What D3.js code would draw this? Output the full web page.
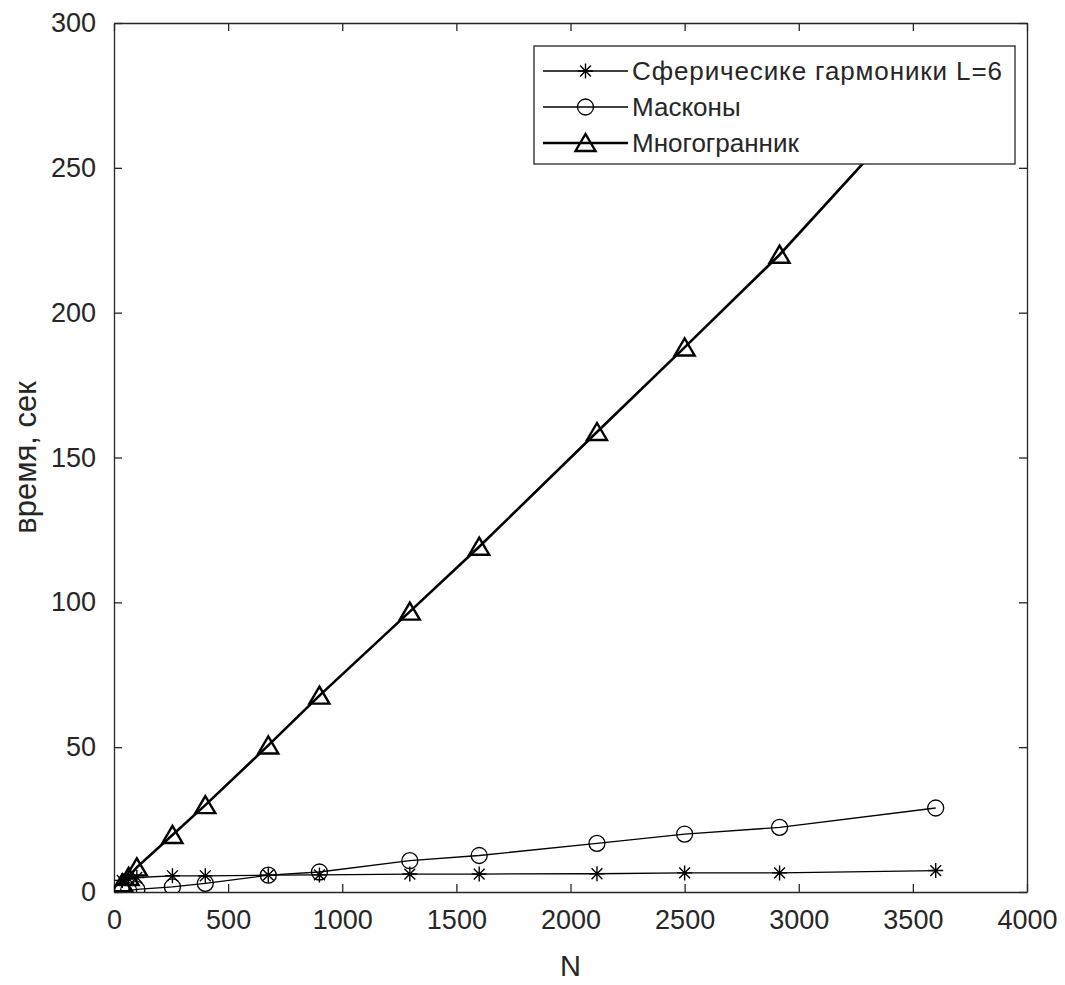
<!DOCTYPE html>
<html>
<head>
<meta charset="utf-8">
<script src="https://cdn.jsdelivr.net/npm/d3@7"></script>
<style>
  body { margin: 0; background: #fff; }
  text { font-family: "Liberation Sans", Arial, sans-serif; fill: #262626; }
</style>
</head>
<body>
<svg id="chart" width="1065" height="985"></svg>
<script>
// N values (squares of grid sizes)
const nValues = [36, 64, 100, 256, 400, 676, 900, 1296, 1600, 2116, 2500, 2916, 3600];
// время, сек
const harmonics = [4.0, 4.5, 5.0, 5.6, 5.6, 5.8, 5.9, 6.2, 6.2, 6.3, 6.6, 6.6, 7.4];
const mascons = [0.3, 0.5, 0.9, 1.8, 3.0, 5.8, 6.9, 10.8, 12.6, 16.8, 20.0, 22.3, 29.0];
const polyhedron = [3.0, 5.2, 8.5, 19.7, 30.0, 50.6, 67.8, 96.8, 119.2, 158.8, 188.0, 220.0, 279.0];

const xTicks = [0, 500, 1000, 1500, 2000, 2500, 3000, 3500, 4000];
const yTicks = [0, 50, 100, 150, 200, 250, 300];
const legendLabels = ["Сферичесике гармоники L=6", "Масконы", "Многогранник"];

const margin = {left: 114, right: 1027, top: 23, bottom: 892};
const svg = d3.select("#chart");

let x = d3.scaleLinear().domain([0, 4000]).range([margin.left, margin.right]);
let y = d3.scaleLinear().domain([0, 300]).range([margin.bottom, margin.top]);

svg.append("defs").append("clipPath").attr("id", "clip")
  .append("rect")
  .attr("x", margin.left).attr("y", margin.top)
  .attr("width", margin.right - margin.left).attr("height", margin.bottom - margin.top);

// axes, MATLAB style with ticks inside
const tickLen = 8;
const fmt = d3.format("d");
svg.append("g")
  .attr("transform", "translate(0," + margin.bottom + ")")
  .call(d3.axisBottom(x).tickValues(xTicks).tickFormat(fmt).tickSizeInner(-tickLen).tickSizeOuter(0).tickPadding(18))
  .call(g => g.selectAll("text").attr("font-size", 27).attr("font-family", "Liberation Sans, Arial"));
svg.append("g")
  .attr("transform", "translate(0," + margin.top + ")")
  .call(d3.axisTop(x).tickValues(xTicks).tickSizeInner(-tickLen).tickSizeOuter(0).tickFormat(""));
svg.append("g")
  .attr("transform", "translate(" + margin.left + ",0)")
  .call(d3.axisLeft(y).tickValues(yTicks).tickFormat(fmt).tickSizeInner(-tickLen).tickSizeOuter(0).tickPadding(18))
  .call(g => g.selectAll("text").attr("font-size", 27).attr("font-family", "Liberation Sans, Arial"));
svg.append("g")
  .attr("transform", "translate(" + margin.right + ",0)")
  .call(d3.axisRight(y).tickValues(yTicks).tickSizeInner(-tickLen).tickSizeOuter(0).tickFormat(""));

svg.selectAll(".domain").attr("stroke", "#262626").attr("stroke-width", 1.3);
svg.selectAll(".tick line").attr("stroke", "#262626").attr("stroke-width", 1.3);
svg.selectAll(".tick text").attr("fill", "#333");

// axis labels
svg.append("text")
  .attr("x", (margin.left + margin.right) / 2).attr("y", 976)
  .attr("text-anchor", "middle").attr("font-size", 29)
  .attr("fill", "#333")
  .text("N");
svg.append("text")
  .attr("transform", "translate(36," + ((margin.top + margin.bottom) / 2) + ") rotate(-90)")
  .attr("text-anchor", "middle").attr("font-size", 31)
  .attr("fill", "#333")
  .text("время, сек");

// markers
function star(g, cx, cy) {
  let r = 7.5, d = r * 0.72;
  g.append("path")
    .attr("d", `M${cx - r},${cy}L${cx + r},${cy}M${cx},${cy - r}L${cx},${cy + r}` +
      `M${cx - d},${cy - d}L${cx + d},${cy + d}M${cx - d},${cy + d}L${cx + d},${cy - d}`)
    .attr("stroke", "#000").attr("stroke-width", 1.4).attr("fill", "none");
}
function circle(g, cx, cy) {
  g.append("circle").attr("cx", cx).attr("cy", cy).attr("r", 8)
    .attr("stroke", "#000").attr("stroke-width", 1.3).attr("fill", "none");
}
function triangle(g, cx, cy) {
  g.append("path")
    .attr("d", `M${cx},${cy - 9}L${cx + 10},${cy + 8}L${cx - 10},${cy + 8}Z`)
    .attr("stroke", "#000").attr("stroke-width", 2.4).attr("fill", "none")
    .attr("stroke-linejoin", "miter");
}

const series = [
  {values: harmonics, width: 1.3, marker: star},
  {values: mascons, width: 1.3, marker: circle},
  {values: polyhedron, width: 2.6, marker: triangle}
];

let line = d3.line()
  .x(d => x(d[0]))
  .y(d => y(d[1]))
  .curve(d3.curveLinear);

const plot = svg.append("g").attr("clip-path", "url(#clip)");
series.forEach(s => {
  let data = nValues.map((n, i) => [n, s.values[i]]);
  plot.append("path")
    .datum(data)
    .attr("d", line)
    .attr("fill", "none")
    .attr("stroke", "#000")
    .attr("stroke-width", s.width);
  let mg = plot.append("g");
  data.forEach(d => s.marker(mg, x(d[0]), y(d[1])));
});

// legend (opaque box, MATLAB style)
const lg = svg.append("g");
lg.append("rect")
  .attr("x", 534).attr("y", 46).attr("width", 481).attr("height", 118)
  .attr("fill", "#fff").attr("stroke", "#262626").attr("stroke-width", 1.3);
const rowY = [71, 107, 143];
legendLabels.forEach((label, i) => {
  lg.append("line")
    .attr("x1", 543).attr("x2", 628).attr("y1", rowY[i]).attr("y2", rowY[i])
    .attr("stroke", "#000").attr("stroke-width", series[i].width);
  series[i].marker(lg, 585.5, rowY[i]);
  lg.append("text")
    .attr("x", 632).attr("y", rowY[i]).attr("dy", "0.36em")
    .attr("font-size", 26)
    .attr("textLength", i === 0 ? 370 : null)
    .attr("fill", "#222")
    .text(label);
});
</script>
</body>
</html>
